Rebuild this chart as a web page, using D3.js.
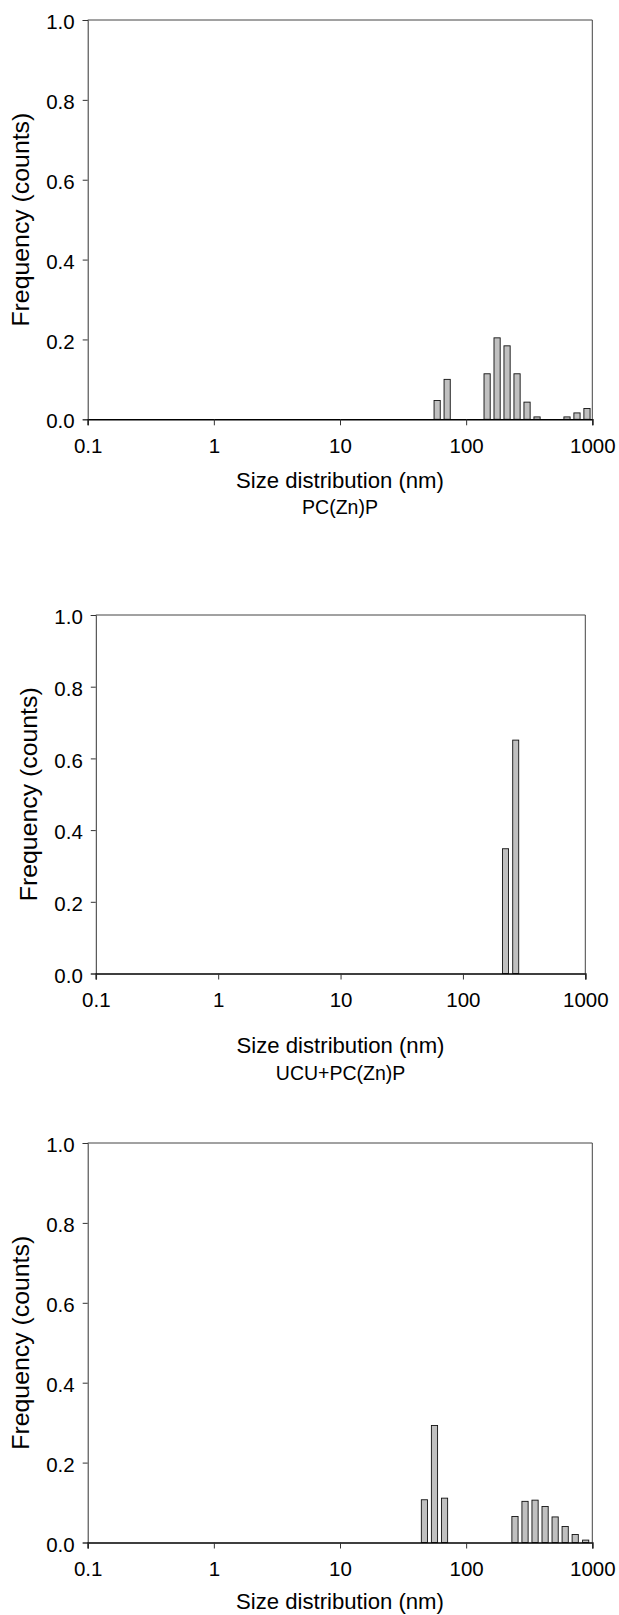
<!DOCTYPE html>
<meta charset="utf-8">
<style>
  body { margin: 0; background: #fff; }
  text { font-family: "Liberation Sans", Arial, sans-serif; fill: #000; }
</style>
<svg width="619" height="1615"></svg>

<script src="https://cdn.jsdelivr.net/npm/d3@7"></script>
<script>
// data
var sizes1 = [58.9, 70.7, 146.6, 175.9, 211.0, 253.2, 303.9, 364.7, 630.2, 756.2, 907.4];
var freq1  = [0.047, 0.100, 0.114, 0.204, 0.184, 0.114, 0.043, 0.006, 0.006, 0.016, 0.027];

var sizes2 = [223, 270];
var freq2  = [0.348, 0.651];

var sizes3 = [46.7, 56.1, 67.4, 243.8, 292.9, 351.7, 422.5, 507.4, 609.5, 732, 886];
var freq3  = [0.107, 0.293, 0.111, 0.065, 0.103, 0.106, 0.090, 0.064, 0.040, 0.020, 0.006];

var sampleNames = ['PC(Zn)P', 'UCU+PC(Zn)P', ''];
var xTicks = [0.1, 1, 10, 100, 1000];
var yTicks = [0, 0.2, 0.4, 0.6, 0.8, 1.0];
var xTitle = 'Size distribution (nm)';
var yTitle = 'Frequency (counts)';

var binStep = 1.2;   // neighbouring bins differ by this factor
var barFrac = 0.62;  // bar width as part of one bin

// where each panel sits on the page
var layout = [
  {left: 87.7, right: 592.3, top: 20,   bottom: 419.3,  titleY: 488,  nameY: 514,  labelX: 29},
  {left: 95.8, right: 585.3, top: 615,  bottom: 973.5,  titleY: 1053, nameY: 1080, labelX: 37},
  {left: 87.7, right: 592.3, top: 1143, bottom: 1542.5, titleY: 1609, nameY: 0,    labelX: 29}
];

var panels = [
  {sizes: sizes1, freq: freq1, name: sampleNames[0]},
  {sizes: sizes2, freq: freq2, name: sampleNames[1]},
  {sizes: sizes3, freq: freq3, name: sampleNames[2]}
];

var svg = d3.select('svg');

function drawPanel(p, L) {
  var x = d3.scaleLog().domain([0.1, 1000]).range([L.left, L.right]);
  var y = d3.scaleLinear().domain([0, 1]).range([L.bottom, L.top]);
  var g = svg.append('g');

  var bins = p.sizes.map((s, i) => ({size: s, value: p.freq[i]}));
  var bw = barFrac * (x(binStep) - x(1));

  g.selectAll('rect.bar')
    .data(bins)
    .enter().append('rect')
    .attr('class', 'bar')
    .attr('x', d => x(d.size) - bw / 2)
    .attr('y', d => y(d.value))
    .attr('width', bw)
    .attr('height', d => y(0) - y(d.value))
    .attr('fill', '#c0c0c0')
    .attr('stroke', '#111')
    .attr('stroke-width', 0.9);

  // frame: top and right
  g.append('path')
    .attr('d', `M${L.left},${L.top}H${L.right}V${L.bottom}`)
    .attr('fill', 'none')
    .attr('stroke', '#444')
    .attr('stroke-width', 1);

  var yAxis = d3.axisLeft(y).tickValues(yTicks).tickFormat(d3.format('.1f'))
    .tickSize(5).tickPadding(8);
  var ya = g.append('g').attr('transform', `translate(${L.left},0)`).call(yAxis);
  ya.select('.domain').attr('stroke', '#333');
  ya.selectAll('.tick line').attr('stroke', '#333');
  ya.selectAll('text').attr('font-size', 20.5).attr('dy', '0.42em')
    .attr('font-family', '"Liberation Sans", Arial, sans-serif');

  var xAxis = d3.axisBottom(x).tickValues(xTicks).tickFormat(d => String(d))
    .tickSize(6).tickPadding(13);
  var xa = g.append('g').attr('transform', `translate(0,${L.bottom})`).call(xAxis);
  xa.select('.domain').attr('stroke', '#000').attr('stroke-width', 1.5);
  xa.selectAll('.tick line').attr('stroke', '#333');
  xa.selectAll('text').attr('font-size', 20.5)
    .attr('font-family', '"Liberation Sans", Arial, sans-serif');

  var cx = (L.left + L.right) / 2;
  g.append('text')
    .attr('transform', `translate(${cx},${L.titleY}) scale(1.03,1)`)
    .attr('text-anchor', 'middle')
    .attr('font-size', 21.5)
    .text(xTitle);

  if (p.name) {
    g.append('text')
      .attr('transform', `translate(${cx},${L.nameY})`)
      .attr('text-anchor', 'middle')
      .attr('font-size', 19.5)
      .text(p.name);
  }

  g.append('text')
    .attr('transform', `translate(${L.labelX},${(L.top + L.bottom) / 2}) rotate(-90) scale(1.08,1)`)
    .attr('text-anchor', 'middle')
    .attr('font-size', 23)
    .text(yTitle);
}

panels.forEach((p, i) => drawPanel(p, layout[i]));
</script>
